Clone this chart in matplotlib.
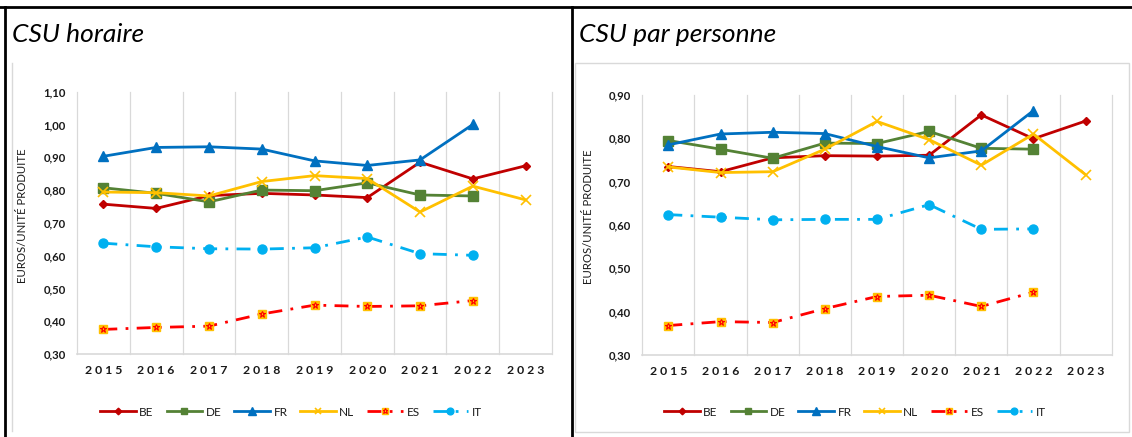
import matplotlib
matplotlib.use("Agg")
import matplotlib.pyplot as plt
from matplotlib.lines import Line2D
from matplotlib.patches import Rectangle

plt.rcParams['font.family'] = ['Lato', 'DejaVu Sans']

years = ['2015', '2016', '2017', '2018', '2019', '2020', '2021', '2022', '2023']

# CSU horaire
hor_be = [0.757, 0.744, 0.783, 0.790, 0.785, 0.777, 0.885, 0.834, 0.874]
hor_de = [0.807, 0.790, 0.764, 0.800, 0.798, 0.822, 0.785, 0.782]
hor_fr = [0.903, 0.930, 0.932, 0.925, 0.889, 0.875, 0.892, 1.000]
hor_nl = [0.794, 0.792, 0.782, 0.826, 0.844, 0.835, 0.733, 0.812, 0.770]
hor_es = [0.375, 0.381, 0.385, 0.422, 0.449, 0.445, 0.447, 0.463]
hor_it = [0.638, 0.627, 0.621, 0.620, 0.624, 0.657, 0.606, 0.601]

# CSU par personne
pers_be = [0.735, 0.723, 0.755, 0.760, 0.759, 0.761, 0.854, 0.799, 0.840]
pers_de = [0.795, 0.775, 0.754, 0.789, 0.788, 0.816, 0.777, 0.775]
pers_fr = [0.785, 0.810, 0.814, 0.811, 0.781, 0.755, 0.771, 0.864]
pers_nl = [0.734, 0.721, 0.723, 0.775, 0.839, 0.797, 0.738, 0.810, 0.716]
pers_es = [0.368, 0.377, 0.375, 0.407, 0.435, 0.438, 0.412, 0.445]
pers_it = [0.624, 0.618, 0.612, 0.613, 0.613, 0.647, 0.590, 0.591]

W, H = 1132, 437
GRID = '#D9D9D9'
TXT = '#1a1a1a'


def px(x, y):
    return x / W, 1 - y / H


def draw_panel(fig, rect, series, ymax, yticks, title, title_x, legend_cx):
    ax = fig.add_axes(rect)
    be, de, fr, nl, es, it = series
    h = []
    h.append(ax.plot(range(len(be)), be, color='#C00000', lw=2, marker='D', ms=4.5, label='BE')[0])
    h.append(ax.plot(range(len(de)), de, color='#548235', lw=2, marker='s', ms=6.5, label='DE')[0])
    h.append(ax.plot(range(len(fr)), fr, color='#0070C0', lw=2, marker='^', ms=7, label='FR')[0])
    h.append(ax.plot(range(len(nl)), nl, color='#FFC000', lw=2, marker='x', ms=6.5, mew=1.2, label='NL')[0])
    es_line = ax.plot(range(len(es)), es, color='#FF0000', lw=2, ls=(0, (5, 3, 1, 3)),
                      marker='s', ms=6, mfc='#FFC000', mec='#FFC000')[0]
    es_star = ax.plot(range(len(es)), es, ls='none', marker='*', ms=5,
                      mfc='none', mec='#FF0000', mew=0.8)[0]
    h.append((es_line, es_star))
    h.append(ax.plot(range(len(it)), it, color='#00B0F0', lw=2, ls=(0, (5, 3, 1, 3)),
                     marker='o', ms=6.5, label='IT')[0])

    ax.set_xlim(-0.5, len(years) - 0.5)
    ax.set_ylim(0.30, ymax)
    for b in range(len(years) + 1):
        ax.axvline(b - 0.5, color=GRID, lw=0.9, zorder=0, clip_on=False)
    for s in ['top', 'left', 'right']:
        ax.spines[s].set_visible(False)
    ax.spines['bottom'].set_color(GRID)
    ax.spines['bottom'].set_linewidth(1.2)

    ax.set_xticks(range(len(years)))
    ax.set_xticklabels([' '.join(y) for y in years], fontsize=8.8, fontweight='bold', color=TXT)
    ax.set_yticks(yticks)
    ax.set_yticklabels([f'{v:.2f}'.replace('.', ',') for v in yticks],
                       fontsize=8.2, fontweight='bold', color=TXT)
    ax.tick_params(axis='both', length=0)
    ax.tick_params(axis='x', pad=8)
    ax.tick_params(axis='y', pad=8)

    fig.text(*px(title_x, 41.5), title, fontsize=19, style='italic', color='black',
             ha='left', va='baseline')
    fig.legend(h, ['BE', 'DE', 'FR', 'NL', 'ES', 'IT'], loc='center',
               bbox_to_anchor=px(legend_cx, 412), ncol=6, frameon=False,
               fontsize=8.5, handlelength=3.0, handletextpad=0.3, columnspacing=1.1,
               markerscale=0.75, labelcolor=TXT)
    return ax


fig = plt.figure(figsize=(W / 100, H / 100), dpi=100)

yt_left = [0.30, 0.40, 0.50, 0.60, 0.70, 0.80, 0.90, 1.00, 1.10]
yt_right = [0.30, 0.40, 0.50, 0.60, 0.70, 0.80, 0.90]

l0, t0 = px(77, 91.7)
l1, b0 = px(552, 354)
draw_panel(fig, [l0, b0, l1 - l0, t0 - b0],
           (hor_be, hor_de, hor_fr, hor_nl, hor_es, hor_it),
           1.10, yt_left, 'CSU horaire', 12, 291)

r0, rt = px(642.3, 95)
r1, rb = px(1111.7, 355)
draw_panel(fig, [r0, rb, r1 - r0, rt - rb],
           (pers_be, pers_de, pers_fr, pers_nl, pers_es, pers_it),
           0.90, yt_right, 'CSU par personne', 579, 855)

for cx, cy in [(22.5, 216), (588.5, 216.5)]:
    fig.text(*px(cx, cy), 'EUROS/UNITÉ PRODUITE', rotation=90, fontsize=8.2,
             color=TXT, ha='center', va='center')

# chart boxes
fig.add_artist(Line2D([12.3 / W] * 2, [1 - 63 / H, 1 - 431 / H], color=GRID, lw=1))
fig.add_artist(Rectangle(px(575, 432), 554 / W, 369 / H, fill=False, ec=GRID, lw=1))

# outer table borders
fig.add_artist(Line2D([0, 1], [1 - 6.5 / H] * 2, color='black', lw=2))
fig.add_artist(Line2D([4.5 / W] * 2, [0, 1 - 6.5 / H], color='black', lw=2))
fig.add_artist(Line2D([571.5 / W] * 2, [0, 1 - 6.5 / H], color='black', lw=2))

fig.savefig('out.png', dpi=100)
